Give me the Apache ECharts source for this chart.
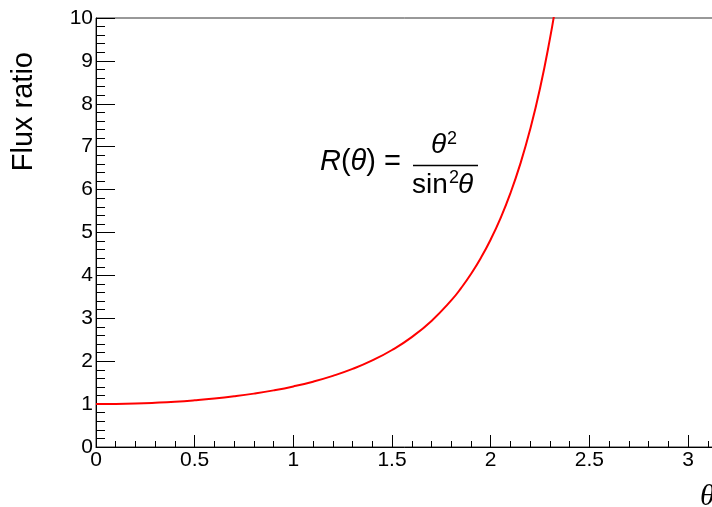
<!DOCTYPE html>
<html>
<head>
<meta charset="utf-8">
<script src="https://cdn.jsdelivr.net/npm/echarts@6/dist/echarts.min.js"></script>
<style>html,body{margin:0;padding:0;background:#fff}#c{width:712px;height:507px}</style>
</head>
<body>
<div id="c"></div>
<script>
// values
var thetaValues = [0, 0.1, 0.2, 0.3, 0.4, 0.5, 0.6, 0.7, 0.8, 0.9, 1.0, 1.1, 1.2, 1.3, 1.4, 1.5, 1.6, 1.7, 1.8, 1.85, 1.9, 1.95, 2.0, 2.05, 2.1, 2.15, 2.2, 2.25, 2.3, 2.33];
var ratioValues = [1.00, 1.003, 1.013, 1.031, 1.055, 1.088, 1.129, 1.181, 1.244, 1.320, 1.412, 1.523, 1.658, 1.820, 2.018, 2.261, 2.562, 2.939, 3.416, 3.704, 4.031, 4.406, 4.838, 5.337, 5.918, 6.600, 7.404, 8.362, 9.513, 10.318];
var xTickLabels = ['0', '0.5', '1', '1.5', '2', '2.5', '3'];
var yTickLabels = ['0', '1', '2', '3', '4', '5', '6', '7', '8', '9', '10'];

var seriesData = thetaValues.map(function (t, i) { return [t, ratioValues[i]]; });
var FONT = 'Liberation Sans, Arial, Helvetica, sans-serif';

var chart = echarts.init(document.getElementById('c'), null, {renderer: 'canvas'});
chart.setOption({
  animation: false,
  backgroundColor: '#fff',
  grid: {left: 96, top: 18, height: 429, width: 620, containLabel: false, outerBoundsMode: 'none', show: true, borderColor: '#333', borderWidth: 1, backgroundColor: 'transparent'},
  xAxis: {
    type: 'value', min: 0, max: Math.PI, interval: 0.5,
    axisLine: {show: true, onZero: false, lineStyle: {color: '#000', width: 1}},
    axisTick: {show: true, inside: true, length: 12, lineStyle: {color: '#000', width: 1}},
    minorTick: {show: true, splitNumber: 5, length: 6, lineStyle: {color: '#000', width: 1}},
    splitLine: {show: false},
    axisLabel: {
      showMaxLabel: false, margin: 3, color: '#000', fontSize: 21, fontFamily: FONT,
      formatter: function (v) { var i = Math.round(v / 0.5); return (Math.abs(v - i * 0.5) < 1e-6 && xTickLabels[i] !== undefined) ? xTickLabels[i] : ''; }
    }
  },
  yAxis: {
    type: 'value', min: 0, max: 10, interval: 1,
    axisLine: {show: true, onZero: false, lineStyle: {color: '#000', width: 1}},
    axisTick: {show: true, inside: true, length: 19, lineStyle: {color: '#000', width: 1}},
    minorTick: {show: true, splitNumber: 5, length: 9, lineStyle: {color: '#000', width: 1}},
    splitLine: {show: false},
    axisLabel: {
      margin: 3, color: '#000', fontSize: 21, fontFamily: FONT,
      formatter: function (v) { var i = Math.round(v); return yTickLabels[i] !== undefined ? yTickLabels[i] : ''; }
    }
  },
  series: [{
    type: 'line', data: seriesData, smooth: true, showSymbol: false, clip: true,
    lineStyle: {color: '#ff0000', width: 2}, itemStyle: {color: '#ff0000'}
  }],
  graphic: [
    {type: 'text', rotation: Math.PI / 2, x: 9, y: 52, style: {text: 'Flux ratio', fill: '#000', font: '29px ' + FONT, textAlign: 'right', textVerticalAlign: 'top'}},
    {type: 'text', x: 700, y: 482, style: {text: 'θ', fill: '#000', font: 'italic 30px "Liberation Serif", "Times New Roman", serif', textAlign: 'left'}},
    {type: 'text', x: 320, y: 147, style: {
      text: '{i|R}(' + '{i|θ}) =', fill: '#000', font: '29px ' + FONT,
      rich: {i: {fontStyle: 'italic', fontSize: 29, fontFamily: FONT, fill: '#000'}}
    }},
    {type: 'text', x: 431, y: 131, style: {text: 'θ', fill: '#000', font: 'italic 28px ' + FONT}},
    {type: 'text', x: 447, y: 130, style: {text: '2', fill: '#000', font: '18px ' + FONT}},
    {type: 'line', shape: {x1: 413, y1: 165.5, x2: 478, y2: 165.5}, style: {stroke: '#000', lineWidth: 1.5}},
    {type: 'text', x: 412, y: 171, style: {text: 'sin', fill: '#000', font: '28px ' + FONT}},
    {type: 'text', x: 449, y: 169, style: {text: '2', fill: '#000', font: '18px ' + FONT}},
    {type: 'text', x: 458, y: 171, style: {text: 'θ', fill: '#000', font: 'italic 28px ' + FONT}}
  ]
});
</script>
</body>
</html>
